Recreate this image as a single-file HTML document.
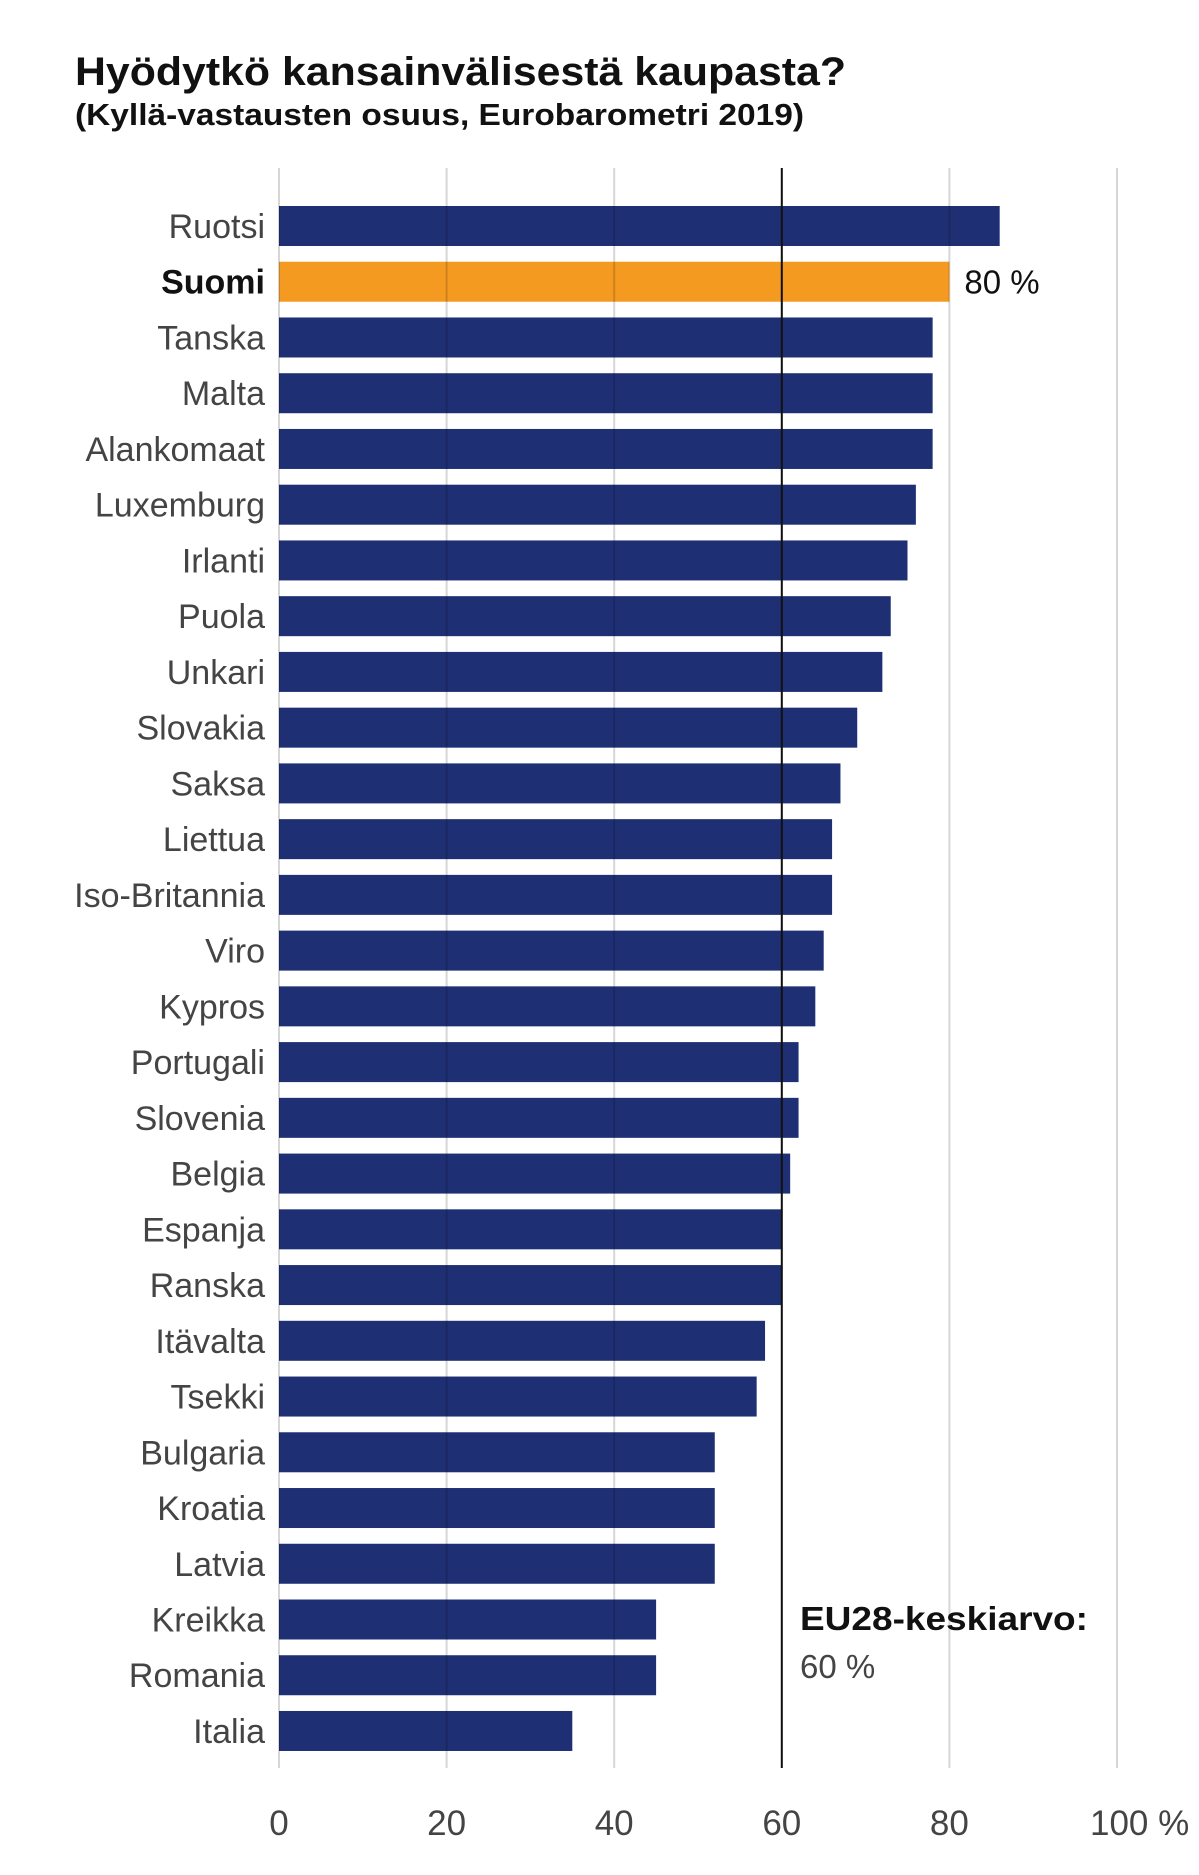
<!DOCTYPE html>
<html><head><meta charset="utf-8"><style>
html,body{margin:0;padding:0;background:#fff;}
svg{display:block;font-family:"Liberation Sans",sans-serif;}
</style></head><body>
<svg id="chart" width="1199" height="1875" viewBox="0 0 1199 1875" xmlns="http://www.w3.org/2000/svg">
<text x="75" y="85" font-size="40" font-weight="bold" fill="#111" textLength="771" lengthAdjust="spacingAndGlyphs">Hyödytkö kansainvälisestä kaupasta?</text>
<text x="75" y="125" font-size="31" font-weight="bold" fill="#111" textLength="729" lengthAdjust="spacingAndGlyphs">(Kyllä-vastausten osuus, Eurobarometri 2019)</text>
<g id="bars"></g><g id="grid"></g><g id="labels"></g><g id="ticks"></g>
<text id="suomiVal" x="962" y="293" font-size="33" fill="#111">80 %</text>
<text x="800" y="1630" font-size="33" font-weight="bold" fill="#111" textLength="288" lengthAdjust="spacingAndGlyphs">EU28-keskiarvo:</text>
<text x="800" y="1678" font-size="33" fill="#444">60 %</text>
</svg>
<script>
const categories=["Ruotsi","Suomi","Tanska","Malta","Alankomaat","Luxemburg","Irlanti","Puola","Unkari","Slovakia","Saksa","Liettua","Iso-Britannia","Viro","Kypros","Portugali","Slovenia","Belgia","Espanja","Ranska","Itävalta","Tsekki","Bulgaria","Kroatia","Latvia","Kreikka","Romania","Italia"];
const values=[86,80,78,78,78,76,75,73,72,69,67,66,66,65,64,62,62,61,60,60,58,57,52,52,52,45,45,35];
const tickValues=[0,20,40,60,80,100];
const tickLabels=["0","20","40","60","80","100 %"];
const average=60;
const highlight="Suomi";
const NS="http://www.w3.org/2000/svg";
const x0=279,x1=1117,top0=226,step=55.74,barH=40,gTop=168,gBot=1768;
const xs=v=>x0+(x1-x0)*v/100;
const ys=i=>top0+i*step;
function mk(t,a){const e=document.createElementNS(NS,t);for(const k in a)e.setAttribute(k,a[k]);return e;}
const bars=document.getElementById('bars'),grid=document.getElementById('grid'),labels=document.getElementById('labels'),ticks=document.getElementById('ticks');
categories.forEach((c,i)=>{
  const r=mk('rect',{x:xs(0),y:ys(i)-barH/2,width:xs(values[i])-xs(0),height:barH,fill:c===highlight?'#f59a20':'#1f2f74'});
  
  
  bars.appendChild(r);
  const t=mk('text',{x:265,y:ys(i)+12,'text-anchor':'end','font-size':34,fill:c===highlight?'#111':'#444','font-weight':c===highlight?'bold':'normal'});
  
  
  t.textContent=c;labels.appendChild(t);
});
tickValues.forEach((v,i)=>{
  const l=mk('line',{x1:xs(v),x2:xs(v),y1:gTop,y2:gBot,stroke:'rgba(0,0,0,0.16)','stroke-width':2});
  
  
  grid.appendChild(l);
  const t=mk('text',{x:xs(v),y:1835,'text-anchor':i===tickValues.length-1?'start':'middle','font-size':35,fill:'#444'});
  if(i===tickValues.length-1)t.setAttribute('x',xs(v)-27);
  
  
  t.textContent=tickLabels[i];ticks.appendChild(t);
});
const a=mk('line',{x1:xs(average),x2:xs(average),y1:gTop,y2:gBot,stroke:'#111','stroke-width':2});


grid.appendChild(a);
const si=categories.indexOf(highlight);
const sv=document.getElementById('suomiVal');
sv.setAttribute('x',xs(values[si])+15);sv.setAttribute('y',ys(si)+12);
sv.textContent=values[si]+' %';
</script>
</body></html>
